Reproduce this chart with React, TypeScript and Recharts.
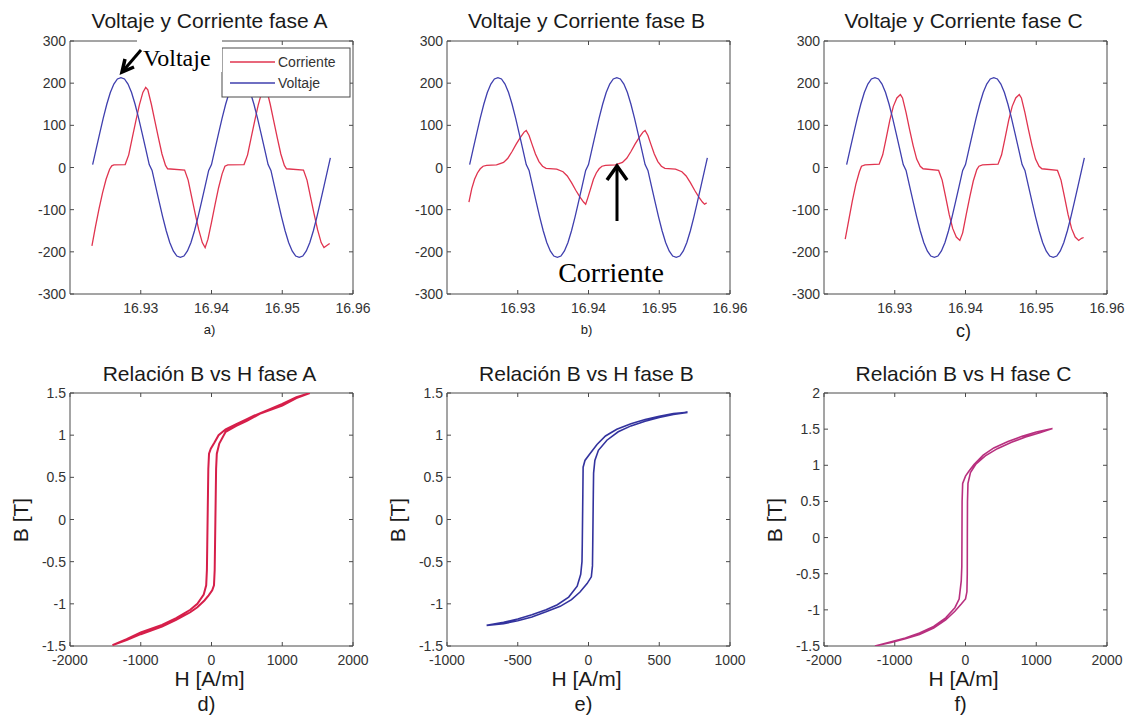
import React from "react";
import { LineChart, Line, XAxis, YAxis, ReferenceArea } from "recharts";

// ---- tiempo / voltaje / corriente (fases A, B, C) ----
const voltajeT = [
  16.9232, 16.9237, 16.9242, 16.9247, 16.9252, 16.9257, 16.9262, 16.9267, 16.9272, 16.9277,
  16.9282, 16.9287, 16.9292, 16.9297, 16.9302, 16.9307, 16.9312, 16.9316, 16.9321, 16.9326,
  16.9331, 16.9336, 16.9341, 16.9346, 16.9351, 16.9356, 16.9361, 16.9366, 16.9371, 16.9376,
  16.9381, 16.9386, 16.9391, 16.9396, 16.94, 16.9405, 16.941, 16.9415, 16.942, 16.9425,
  16.943, 16.9435, 16.944, 16.9445, 16.945, 16.9455, 16.946, 16.9465, 16.947, 16.9475,
  16.948, 16.9484, 16.9489, 16.9494, 16.9499, 16.9504, 16.9509, 16.9514, 16.9519, 16.9524,
  16.9529, 16.9534, 16.9539, 16.9544, 16.9549, 16.9554, 16.9559, 16.9564, 16.9568,
];
const voltajeV = [
  7, 44, 81, 117, 150, 178, 198, 210, 213, 210,
  198, 178, 150, 117, 81, 44, 7, -7, -44, -81,
  -117, -150, -178, -198, -210, -213, -210, -198, -178, -150,
  -117, -81, -44, -7, 7, 44, 81, 117, 150, 178,
  198, 210, 213, 210, 198, 178, 150, 117, 81, 44,
  7, -7, -44, -81, -117, -150, -178, -198, -210, -213,
  -210, -198, -178, -150, -117, -81, -44, -7, 23,
];

const corrienteAT = [
  16.9231, 16.9236, 16.9241, 16.9246, 16.9251, 16.9256, 16.9259, 16.9262, 16.9278, 16.9283,
  16.9288, 16.9293, 16.9298, 16.9303, 16.9307, 16.931, 16.9315, 16.932, 16.9325, 16.933,
  16.9335, 16.9338, 16.9362, 16.9367, 16.9372, 16.9377, 16.9382, 16.9387, 16.9391, 16.9395,
  16.94, 16.9405, 16.941, 16.9415, 16.9419, 16.9423, 16.9446, 16.9451, 16.9456, 16.9461,
  16.9466, 16.9471, 16.9475, 16.9478, 16.9483, 16.9488, 16.9493, 16.9498, 16.9503, 16.9506,
  16.953, 16.9535, 16.954, 16.9545, 16.955, 16.9555, 16.9559, 16.9563, 16.9567,
];
const corrienteAV = [
  -186, -140, -98, -60, -28, -4, 4, 6, 7, 30,
  70, 110, 148, 178, 190, 184, 150, 110, 70, 32,
  5, -3, -6, -30, -70, -110, -148, -178, -190, -170,
  -130, -88, -48, -15, 3, 6, 7, 30, 70, 110,
  148, 178, 190, 184, 150, 110, 70, 32, 5, -3,
  -6, -30, -70, -110, -148, -178, -190, -185, -180,
];

const corrienteBT = [
  16.9231, 16.9235, 16.9239, 16.9243, 16.9247, 16.9251, 16.9256, 16.927, 16.928, 16.9286,
  16.9292, 16.9298, 16.9304, 16.9309, 16.9312, 16.9316, 16.932, 16.9325, 16.933, 16.9335,
  16.934, 16.9355, 16.9364, 16.937, 16.9376, 16.9382, 16.9388, 16.9393, 16.9396, 16.9399,
  16.9403, 16.9407, 16.9411, 16.9415, 16.9419, 16.9424, 16.9438, 16.9448, 16.9454, 16.946,
  16.9466, 16.9472, 16.9477, 16.948, 16.9484, 16.9488, 16.9493, 16.9498, 16.9503, 16.9508,
  16.9523, 16.9532, 16.9538, 16.9544, 16.955, 16.9556, 16.9561, 16.9564, 16.9567,
];
const corrienteBV = [
  -82, -50, -28, -13, -3, 3, 5, 6, 12, 22,
  38, 56, 72, 84, 88, 76, 56, 32, 14, 3,
  -2, -4, -10, -20, -36, -54, -70, -82, -87, -72,
  -50, -28, -13, -3, 3, 5, 6, 12, 22, 38,
  56, 72, 84, 88, 76, 56, 32, 14, 3, -2,
  -4, -10, -20, -36, -54, -70, -82, -87, -84,
];

const corrienteCT = [
  16.923, 16.9235, 16.924, 16.9245, 16.925, 16.9253, 16.9258, 16.9278, 16.9283, 16.9288,
  16.9293, 16.9298, 16.9303, 16.9308, 16.9311, 16.9316, 16.9321, 16.9326, 16.9331, 16.9336,
  16.934, 16.9362, 16.9367, 16.9372, 16.9377, 16.9382, 16.9387, 16.9392, 16.9396, 16.9401,
  16.9406, 16.9411, 16.9416, 16.9419, 16.9424, 16.9446, 16.9451, 16.9456, 16.9461, 16.9466,
  16.9471, 16.9476, 16.9479, 16.9484, 16.9489, 16.9494, 16.9499, 16.9504, 16.9508, 16.953,
  16.9535, 16.954, 16.9545, 16.955, 16.9555, 16.956, 16.9564, 16.9567,
];
const corrienteCV = [
  -170, -125, -80, -40, -10, 3, 6, 8, 30, 70,
  112, 145, 165, 173, 165, 130, 90, 52, 20, 3,
  -3, -7, -30, -70, -112, -145, -165, -173, -155, -112,
  -70, -32, -5, 3, 6, 8, 30, 70, 112, 145,
  165, 173, 165, 130, 90, 52, 20, 3, -3, -7,
  -30, -70, -112, -145, -165, -173, -168, -166,
];

// ---- lazos B-H ----
const lazoAH = [
  1390, 1200, 1000, 800, 600, 500, 350, 200, 100, 40, -10, -35, -45, -50, -55, -60, -65, -75, -110,
  -200, -300, -500, -700, -1000, -1200, -1400,
  -1200, -1000, -700, -500, -300, -200, -100, -40, 10, 35, 45, 50, 55, 60, 65, 75, 110, 200, 350,
  500, 700, 1000, 1200, 1390,
];
const lazoAB = [
  1.5, 1.45, 1.37, 1.3, 1.23, 1.19, 1.13, 1.07, 1.0, 0.91, 0.84, 0.78, 0.6, 0.3, 0, -0.3, -0.6, -0.78, -0.89,
  -1.0, -1.07, -1.17, -1.25, -1.34, -1.42, -1.49,
  -1.43, -1.36, -1.27, -1.19, -1.1, -1.04, -0.96, -0.9, -0.84, -0.78, -0.6, -0.3, 0, 0.3, 0.6, 0.78, 0.9, 1.04, 1.11,
  1.17, 1.26, 1.35, 1.44, 1.5,
];

const lazoBH = [
  700, 600, 500, 400, 300, 200, 120, 60, 10, -25, -38, -40, -42, -44, -46, -55, -80, -140, -220, -300,
  -400, -500, -600, -720,
  -600, -500, -400, -300, -200, -120, -60, -10, 20, 28, 30, 32, 34, 36, 45, 70, 130, 210, 300, 400,
  500, 600, 700,
];
const lazoBB = [
  1.27, 1.255, 1.225, 1.185, 1.135, 1.07, 0.99, 0.89, 0.78, 0.7, 0.62, 0.3, 0, -0.3, -0.5, -0.65, -0.79, -0.92, -1.01, -1.07,
  -1.13, -1.18, -1.22, -1.255,
  -1.235, -1.2, -1.155, -1.095, -1.03, -0.95, -0.86, -0.76, -0.68, -0.55, -0.3, 0, 0.3, 0.55, 0.7, 0.82, 0.94, 1.04, 1.11, 1.165,
  1.21, 1.245, 1.27,
];

const lazoCH = [
  1230, 1000, 800, 600, 400, 250, 120, 50, 0, -40, -48, -50, -52, -60, -90, -150, -280, -450, -650, -850,
  -1050, -1280,
  -1050, -850, -650, -450, -280, -150, -60, 0, 20, 25, 26, 28, 35, 70, 150, 280, 450, 650,
  850, 1050, 1230,
];
const lazoCB = [
  1.51, 1.46, 1.4, 1.33, 1.24, 1.14, 1.01, 0.92, 0.85, 0.75, 0.5, 0, -0.4, -0.6, -0.85, -0.97, -1.11, -1.23, -1.32, -1.39,
  -1.44, -1.5,
  -1.45, -1.4, -1.34, -1.25, -1.14, -1.02, -0.92, -0.85, -0.75, -0.5, 0, 0.5, 0.75, 0.9, 1.02, 1.13, 1.23, 1.32,
  1.39, 1.45, 1.51,
];

// ---- ejes ----
const tiempoTicks = [16.93, 16.94, 16.95, 16.96];
const vTicks = [-300, -200, -100, 0, 100, 200, 300];
const hTicksAC = [-2000, -1000, 0, 1000, 2000];
const hTicksB = [-1000, -500, 0, 500, 1000];
const bTicksAB = [-1.5, -1, -0.5, 0, 0.5, 1, 1.5];
const bTicksC = [-1.5, -1, -0.5, 0, 0.5, 1, 1.5, 2];

const pts = (xs: number[], ys: number[]) => xs.map((x, i) => ({ x, y: ys[i] }));

const PL = 50;
const PT = 14;
const PW = 283;
const PH = 253;
const MR = 28;
const XH = 32;
const CW = PL + PW + MR;
const CH = PT + PH + XH;

const AXIS = "#4a4a4a";
const TXT = "#333";
const SANS = "'Liberation Sans', Arial, Helvetica, sans-serif";
const SERIF = "'Liberation Serif', 'Times New Roman', serif";

const RED = "#e0344f";
const BLUE = "#3f3fae";

function renderXTick(p: any, fmt: (v: number) => string) {
  const x = p.x;
  return (
    <g>
      <line x1={x} x2={x} y1={PT + PH} y2={PT + PH - 4} stroke={AXIS} />
      <line x1={x} x2={x} y1={PT} y2={PT + 4} stroke={AXIS} />
      <text x={x} y={PT + PH + 19} textAnchor="middle" fontSize={14} fontFamily={SANS} fill={TXT}>
        {fmt(p.payload.value)}
      </text>
    </g>
  );
}

function renderYTick(p: any) {
  const y = p.y;
  return (
    <g>
      <line x1={PL} x2={PL + 4} y1={y} y2={y} stroke={AXIS} />
      <line x1={PL + PW} x2={PL + PW - 4} y1={y} y2={y} stroke={AXIS} />
      <text x={PL - 4} y={y + 5} textAnchor="end" fontSize={14} fontFamily={SANS} fill={TXT}>
        {String(p.payload.value)}
      </text>
    </g>
  );
}

type Serie = { data: { x: number; y: number }[]; color: string; width: number };

function Panel(props: {
  left: number;
  top: number;
  xDomain: [number, number];
  xTicks: number[];
  xFmt: (v: number) => string;
  yDomain: [number, number];
  yTicks: number[];
  series: Serie[];
}) {
  const { left, top, xDomain, xTicks, xFmt, yDomain, yTicks, series } = props;
  return (
    <div style={{ position: "absolute", left: left - PL, top: top - PT }}>
      <LineChart width={CW} height={CH} margin={{ top: PT, right: MR, bottom: 0, left: 0 }}>
        <XAxis
          type="number"
          dataKey="x"
          domain={xDomain}
          ticks={xTicks}
          allowDataOverflow
          interval={0}
          height={XH}
          axisLine={false}
          tickLine={false}
          tick={(p: any) => renderXTick(p, xFmt)}
        />
        <YAxis
          type="number"
          domain={yDomain}
          ticks={yTicks}
          allowDataOverflow
          interval={0}
          width={PL}
          axisLine={false}
          tickLine={false}
          tick={(p: any) => renderYTick(p)}
        />
        <ReferenceArea
          x1={xDomain[0]}
          x2={xDomain[1]}
          y1={yDomain[0]}
          y2={yDomain[1]}
          fill="none"
          stroke={AXIS}
          strokeWidth={1}
          ifOverflow="visible"
        />
        {series.map((s, i) => (
          <Line
            key={i}
            data={s.data}
            dataKey="y"
            type="linear"
            stroke={s.color}
            strokeWidth={s.width}
            dot={false}
            activeDot={false}
            isAnimationActive={false}
          />
        ))}
      </LineChart>
    </div>
  );
}

const fmtT = (v: number) => v.toFixed(2);
const fmtN = (v: number) => String(v);

const topCols = [70, 447, 824];
const fases = ["A", "B", "C"];

export default function App() {
  const voltaje = pts(voltajeT, voltajeV);
  const corrientes = [pts(corrienteAT, corrienteAV), pts(corrienteBT, corrienteBV), pts(corrienteCT, corrienteCV)];
  const lazos = [pts(lazoAH, lazoAB), pts(lazoBH, lazoBB), pts(lazoCH, lazoCB)];
  const lazoColors = ["#d61f4a", "#33339e", "#b8307f"];
  const lazoWidths = [2, 1.6, 1.6];
  const hDomains: [number, number][] = [[-2000, 2000], [-1000, 1000], [-2000, 2000]];
  const hTicks = [hTicksAC, hTicksB, hTicksAC];
  const bDomains: [number, number][] = [[-1.5, 1.5], [-1.5, 1.5], [-1.5, 2]];
  const bTicks = [bTicksAB, bTicksAB, bTicksC];
  const topLabels = ["a)", "b)", "c)"];
  const botLabels = ["d)", "e)", "f)"];

  return (
    <div style={{ position: "absolute", left: 0, top: 0, width: 1128, height: 722, background: "#fff", overflow: "hidden" }}>
      {topCols.map((left, i) => (
        <Panel
          key={"v" + i}
          left={left}
          top={41}
          xDomain={[16.92, 16.96]}
          xTicks={tiempoTicks}
          xFmt={fmtT}
          yDomain={[-300, 300]}
          yTicks={vTicks}
          series={[
            { data: corrientes[i], color: RED, width: 1.3 },
            { data: voltaje, color: BLUE, width: 1.3 },
          ]}
        />
      ))}
      {topCols.map((left, i) => (
        <Panel
          key={"b" + i}
          left={left}
          top={393}
          xDomain={hDomains[i]}
          xTicks={hTicks[i]}
          xFmt={fmtN}
          yDomain={bDomains[i]}
          yTicks={bTicks[i]}
          series={[{ data: lazos[i], color: lazoColors[i], width: lazoWidths[i] }]}
        />
      ))}

      <svg width={1128} height={722} style={{ position: "absolute", left: 0, top: 0, pointerEvents: "none" }}>
        {topCols.map((left, i) => {
          const cx = left + PW / 2 - 2;
          return (
            <g key={"t" + i} fontFamily={SANS} fill="#1a1a1a">
              <text x={cx} y={28} fontSize={21} textAnchor="middle">
                {"Voltaje y Corriente fase " + fases[i]}
              </text>
              <text x={cx} y={i === 2 ? 337 : 334} fontSize={i === 2 ? 18 : 13} textAnchor="middle">
                {topLabels[i]}
              </text>
              <text x={cx} y={381} fontSize={21} textAnchor="middle">
                {"Relación B vs H fase " + fases[i]}
              </text>
              <text x={cx} y={686} fontSize={21} textAnchor="middle">
                H [A/m]
              </text>
              <text x={cx - 3} y={711} fontSize={20} textAnchor="middle">
                {botLabels[i]}
              </text>
              <text
                x={left - 42}
                y={520}
                fontSize={21}
                textAnchor="middle"
                transform={`rotate(-90, ${left - 42}, 520)`}
              >
                B [T]
              </text>
            </g>
          );
        })}

        {/* leyenda fase A */}
        <rect x={222} y={48} width={128} height={49} fill="#fff" stroke={AXIS} />
        <line x1={230} x2={275} y1={62} y2={62} stroke={RED} strokeWidth={1.3} />
        <line x1={230} x2={275} y1={83} y2={83} stroke={BLUE} strokeWidth={1.3} />
        <text x={278} y={67} fontSize={14} fontFamily={SANS} fill={TXT}>Corriente</text>
        <text x={278} y={88} fontSize={14} fontFamily={SANS} fill={TXT}>Voltaje</text>

        {/* anotación Voltaje */}
        <rect x={137} y={35} width={85} height={37} fill="#fff" />
        <text x={143} y={66} fontSize={24} fontFamily={SERIF} fill="#000">Voltaje</text>
        <line x1={141} y1={50} x2={123} y2={71} stroke="#000" strokeWidth={3} />
        <polyline points="134,67 122,72 125,59" fill="none" stroke="#000" strokeWidth={3.5} strokeLinejoin="miter" />

        {/* anotación Corriente */}
        <line x1={617} y1={221} x2={617} y2={168} stroke="#000" strokeWidth={3} />
        <polyline points="607,180 617,166 627,180" fill="none" stroke="#000" strokeWidth={3.5} strokeLinejoin="miter" />
        <text x={611} y={282} fontSize={28} fontFamily={SERIF} fill="#000" textAnchor="middle">Corriente</text>
      </svg>
    </div>
  );
}
